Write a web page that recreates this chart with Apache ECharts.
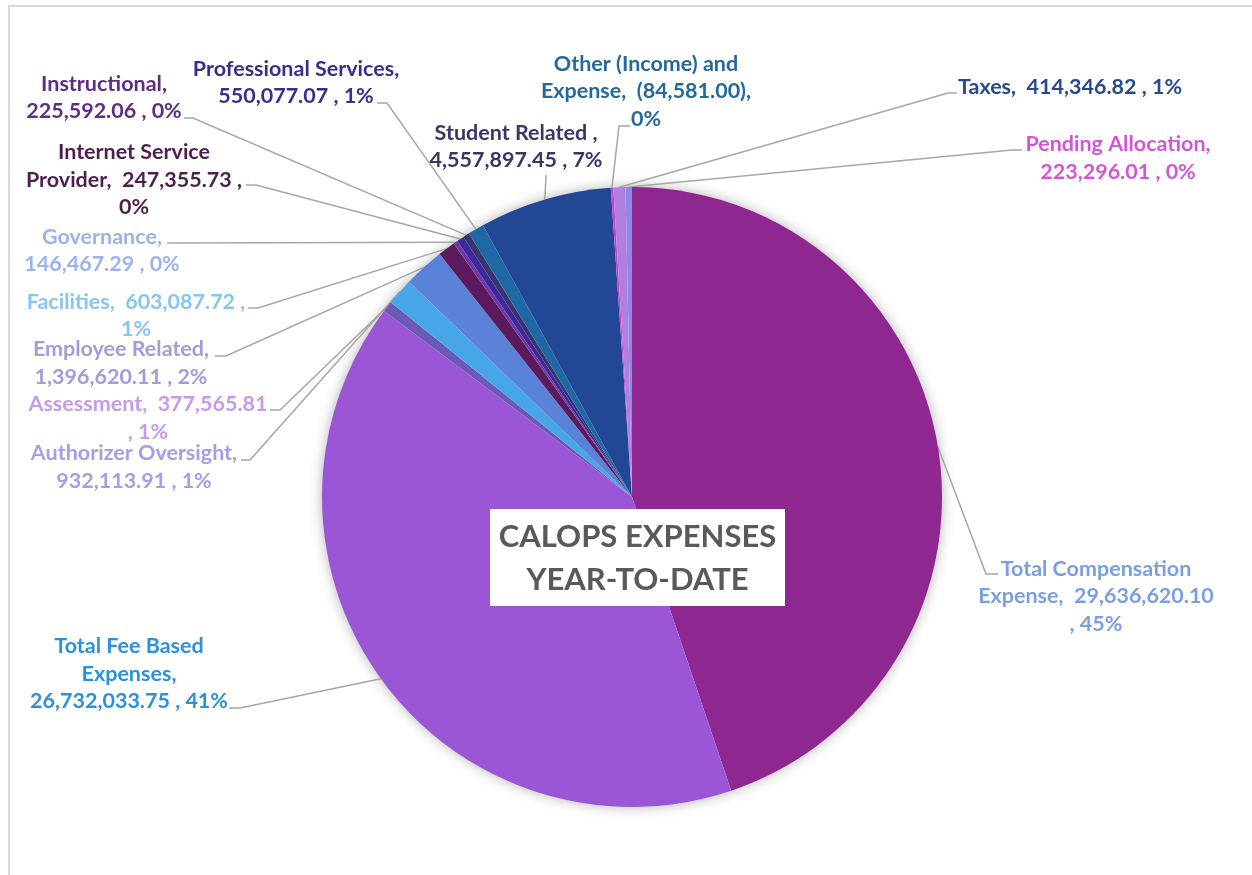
<!DOCTYPE html>
<html><head><meta charset="utf-8">
<script src="https://cdn.jsdelivr.net/npm/echarts@6/dist/echarts.min.js"></script>
<style>html,body{margin:0;padding:0;background:#fff}#chart{width:1252px;height:875px}</style>
</head><body><div id="chart"></div>
<script>
// ---- data ----
const categories = ['Total Compensation Expense', 'Total Fee Based Expenses', 'Assessment', 'Authorizer Oversight',
  'Employee Related', 'Facilities', 'Governance', 'Internet Service Provider', 'Instructional',
  'Professional Services', 'Student Related ', 'Other (Income) and Expense', 'Taxes', 'Pending Allocation'];
const values = [29636620.10, 26732033.75, 377565.81, 932113.91, 1396620.11, 603087.72, 146467.29,
  247355.73, 225592.06, 550077.07, 4557897.45, -84581.00, 414346.82, 223296.01];
const titleLines = ['CALOPS EXPENSES', 'YEAR-TO-DATE'];

// ---- styles / layout ----
const sliceColors = ['#8E278F', '#9A56D4', '#6A5AB5', '#47A6E8', '#5A82D9', '#5B1A5C', '#7038A6',
  '#3C2A9C', '#3B3370', '#1E68A6', '#224895', '#D03CD0', '#B07FE0', '#8D8AE6'];
const labelColors = ['#7B9EE0', '#2B91DF', '#C69AE6', '#A99BE8', '#A39CDA', '#86C5F0', '#9BB3EA',
  '#4E1E4E', '#5E2C82', '#3B2D8C', '#3B3469', '#23699B', '#264A8C', '#D455D4'];
// words per label line (Excel wrapping)
const lineWords = [[2,2,2],[3,1,3],[2,2],[2,3],[2,3],[3,1],[1,3],[2,3,1],[1,3],[2,3],[3,3],[3,2,1],[4],[2,3]];
// [label centre x, label centre y, hook x, hook y, elbow x, elbow y]
const labelPlace = [
  [1096, 596.5, 998, 574, 986, 574],
  [129, 674, 229, 708, 240, 708],
  [148, 418, 270, 410, 280, 410],
  [134, 467, 241, 460, 250, 460],
  [121, 363, 215, 356, 226, 356],
  [136, 315.5, 248, 308, 258, 308],
  [102, 250.5, 167, 243, 177, 243],
  [134, 180, 246, 185, 256, 185],
  [104, 97.5, 184, 118, 193, 118],
  [296, 82.5, 377, 103, 387, 103],
  [516, 146.5, 546, 175, 546, 177],
  [646, 91.5, 630, 126, 619, 126],
  [1070, 87, 957, 93, 948, 93],
  [1118, 158, 1022, 150, 1012, 150]
];
const CX = 632, CY = 497, R = 310;
const FONT = 'Lato';

const signedSum = values.reduce((a, b) => a + b, 0);
function acct(v) {
  const s = Math.abs(v).toLocaleString('en-US', {minimumFractionDigits: 2, maximumFractionDigits: 2});
  return v < 0 ? ' (' + s + ')' : ' ' + s + ' ';
}
function wrap(str, counts) {
  const toks = str.split(/(\s+)/);
  let out = '', line = 0, n = 0;
  toks.forEach((t, i) => {
    if (i % 2 === 0) { out += t; n++; }
    else if (n === counts[line]) { out += '\n'; line++; n = 0; }
    else out += t;
  });
  return out;
}
const labelTexts = values.map((v, i) => {
  const pct = Math.round(v / signedSum * 100);
  const full = categories[i] + ', ' + acct(v) + ', ' + (pct === 0 ? 0 : pct) + '%';
  return wrap(full, lineWords[i]);
});

const chart = echarts.init(document.getElementById('chart'), null, {renderer: 'canvas'});
chart.setOption({
  animation: false,
  backgroundColor: '#ffffff',
  graphic: [
    {type: 'rect', silent: true, z: 0, shape: {x: 9, y: 6, width: 1400, height: 1000},
     style: {fill: 'none', stroke: '#D9D9D9', lineWidth: 2}},
    {type: 'circle', silent: true, z: 0, shape: {cx: CX, cy: CY, r: R - 1},
     style: {fill: '#ffffff', shadowBlur: 14, shadowColor: 'rgba(0,0,0,0.35)'}},
    {type: 'rect', silent: true, z: 100, shape: {x: 490, y: 509, width: 295, height: 97},
     style: {fill: '#ffffff'}},
    {type: 'text', silent: true, z: 101, x: 637.5, y: 558.5,
     style: {text: titleLines.join('\n'), fontFamily: FONT, fontWeight: 'bold', fontSize: 31,
       fill: '#595959', align: 'center', verticalAlign: 'middle', lineHeight: 43}}
  ],
  series: [{
    type: 'pie',
    center: [CX, CY],
    radius: R,
    startAngle: 90,
    clockwise: true,
    avoidLabelOverlap: false,
    z: 2,
    itemStyle: {borderWidth: 0},
    emphasis: {disabled: true},
    label: {
      show: true,
      position: 'outside',
      formatter: p => labelTexts[p.dataIndex],
      fontFamily: FONT,
      fontWeight: 'bold',
      fontSize: 21.5,
      lineHeight: 27.5,
      align: 'center'
    },
    labelLine: {show: true, length: 10, length2: 10, lineStyle: {color: '#A6A6A6', width: 1.5}},
    labelLayout: function (p) {
      const L = labelPlace[p.dataIndex];
      const e = p.labelLinePoints ? p.labelLinePoints[0] : [L[4], L[5]];
      return {
        x: L[0], y: L[1], align: 'center', verticalAlign: 'middle',
        labelLinePoints: [e, [L[4], L[5]], [L[2], L[3]]]
      };
    },
    data: values.map((v, i) => ({
      name: categories[i],
      value: Math.abs(v),
      itemStyle: {color: sliceColors[i]},
      label: {color: labelColors[i]}
    }))
  }]
});
</script>
</body></html>
